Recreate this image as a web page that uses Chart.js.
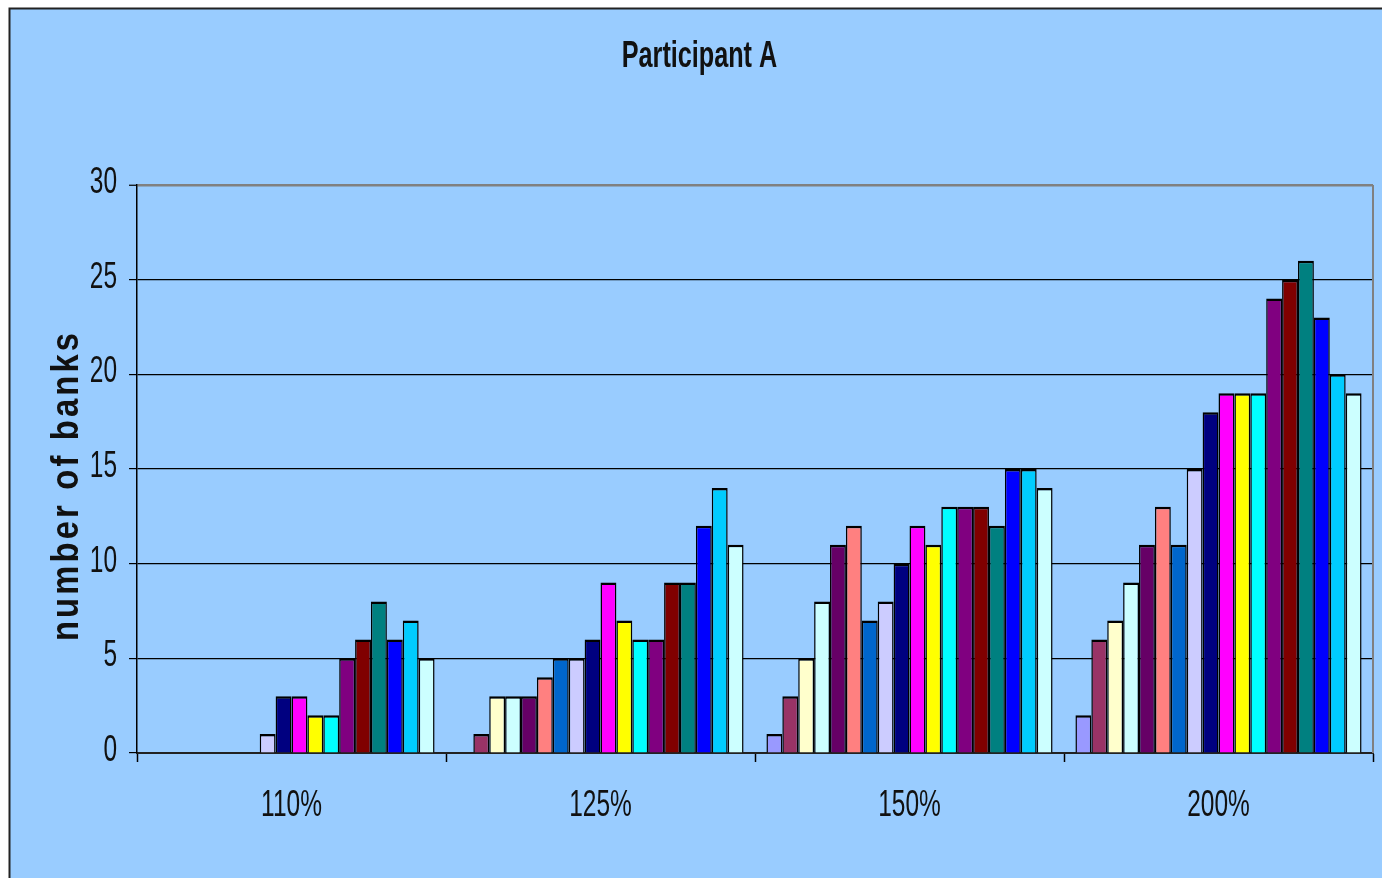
<!DOCTYPE html>
<html>
<head>
<meta charset="utf-8">
<title>Participant A</title>
<script src="https://cdn.jsdelivr.net/npm/chart.js@4/dist/chart.umd.min.js"></script>
<style>
  html, body { margin: 0; padding: 0; background: #ffffff; overflow: hidden; }
  #wrap { position: absolute; left: 0; top: 0; width: 1382px; height: 878px; }
</style>
</head>
<body>
<div id="wrap"><canvas id="chart" width="1382" height="878"></canvas></div>
<script>
// Threshold categories along the x axis
const categories = ['110%', '125%', '150%', '200%'];

// Y axis tick labels
const yTicks = [0, 5, 10, 15, 20, 25, 30];

// Number of banks per series, one array per threshold (18 series each)
const banks110 = [0, 0, 0, 0, 0, 0, 0, 1, 3, 3, 2, 2, 5, 6, 8, 6, 7, 5];
const banks125 = [0, 1, 3, 3, 3, 4, 5, 5, 6, 9, 7, 6, 6, 9, 9, 12, 14, 11];
const banks150 = [1, 3, 5, 8, 11, 12, 7, 8, 10, 12, 11, 13, 13, 13, 12, 15, 15, 14];
const banks200 = [2, 6, 7, 9, 11, 13, 11, 15, 18, 19, 19, 19, 24, 25, 26, 23, 20, 19];

// Classic spreadsheet series palette
const seriesColors = [
  '#9999FF', '#993366', '#FFFFCC', '#CCFFFF', '#660066', '#FF8080',
  '#0066CC', '#CCCCFF', '#000080', '#FF00FF', '#FFFF00', '#00FFFF',
  '#800080', '#800000', '#008080', '#0000FF', '#00CCFF', '#CCFFFF'
];

const byCategory = [banks110, banks125, banks150, banks200];
const datasets = seriesColors.map((color, s) => ({
  label: 'Series ' + (s + 1),
  data: byCategory.map(arr => arr[s]),
  backgroundColor: color,
  borderColor: '#000000',
  borderWidth: { top: 2.5, left: 1.5, right: 1.5, bottom: 0 },
  borderSkipped: 'start',
  categoryPercentage: 0.926,
  barPercentage: 1.0
}));

const FONT = '"Liberation Sans", Arial, sans-serif';
const BG = '#99CCFF';

// Draws text squeezed horizontally (narrow, tall lettering)
function squeezedText(ctx, text, x, y, sx, align) {
  ctx.save();
  ctx.translate(x, y);
  ctx.scale(sx, 1);
  ctx.textAlign = align;
  ctx.fillText(text, 0, 0);
  ctx.restore();
}

// Draws text centred on the origin, each glyph narrowed by sx and spaced apart
function spacedText(ctx, text, sx, spacing) {
  const chars = Array.from(text);
  const widths = chars.map(c => ctx.measureText(c).width * sx);
  const total = widths.reduce((a, b) => a + b, 0) + spacing * (chars.length - 1);
  let x = -total / 2;
  ctx.textAlign = 'left';
  chars.forEach((c, i) => {
    ctx.save();
    ctx.translate(x, 0);
    ctx.scale(sx, 1);
    ctx.fillText(c, 0, 0);
    ctx.restore();
    x += widths[i] + spacing;
  });
}

const frame = {
  id: 'frame',
  beforeDraw(chart) {
    const ctx = chart.ctx;
    ctx.save();
    ctx.fillStyle = '#ffffff';
    ctx.fillRect(0, 0, chart.width, chart.height);
    ctx.fillStyle = BG;
    ctx.fillRect(9, 8, chart.width, chart.height);
    ctx.strokeStyle = '#222222';
    ctx.lineWidth = 2;
    ctx.strokeRect(9.5, 8.5, chart.width + 20, chart.height + 20);
    ctx.restore();
  },
  afterDraw(chart) {
    const ctx = chart.ctx;
    const area = chart.chartArea;
    const xs = chart.scales.x, ys = chart.scales.y;
    ctx.save();

    // right edge of the plot area
    ctx.strokeStyle = '#808080';
    ctx.lineWidth = 2;
    ctx.beginPath();
    ctx.moveTo(area.right, area.top);
    ctx.lineTo(area.right, area.bottom);
    ctx.stroke();

    ctx.fillStyle = '#111111';

    // title
    ctx.font = 'bold 36px ' + FONT;
    ctx.textBaseline = 'alphabetic';
    squeezedText(ctx, 'Participant A', 699.5, 67, 0.70, 'center');

    // y tick labels
    ctx.font = '36px ' + FONT;
    ctx.textBaseline = 'middle';
    yTicks.forEach(v => {
      squeezedText(ctx, String(v), 117, ys.getPixelForValue(v) - 2, 0.68, 'right');
    });

    // x tick labels
    categories.forEach((c, i) => {
      squeezedText(ctx, c, xs.getPixelForValue(i), 806, 0.68, 'center');
    });

    // y axis title
    ctx.font = 'bold 38px ' + FONT;
    ctx.textBaseline = 'alphabetic';
    ctx.translate(78, 487);
    ctx.rotate(-Math.PI / 2);
    spacedText(ctx, 'number of banks', 0.86, 3.2);

    ctx.restore();
  }
};

new Chart(document.getElementById('chart'), {
  type: 'bar',
  data: { labels: categories, datasets },
  options: {
    responsive: false,
    animation: false,
    events: [],
    layout: { padding: { left: 0, top: 185, right: 9, bottom: 0 } },
    plugins: {
      legend: { display: false },
      title: { display: false },
      tooltip: { enabled: false }
    },
    scales: {
      x: {
        offset: true,
        ticks: { display: false },
        grid: {
          offset: true,
          drawOnChartArea: false,
          drawTicks: true,
          tickLength: 9,
          tickColor: '#000000',
          tickWidth: 1.5
        },
        border: { display: true, color: '#222222', width: 2 },
        afterFit(scale) { scale.height = 878 - 753; }
      },
      y: {
        min: 0,
        max: 30,
        afterBuildTicks(scale) { scale.ticks = yTicks.map(v => ({ value: v })); },
        ticks: { display: false },
        grid: {
          color: ctx => (ctx.tick && ctx.tick.value === 30 ? '#808080' : '#000000'),
          lineWidth: ctx => (ctx.tick && ctx.tick.value === 30 ? 2.5 : 1.2),
          drawTicks: true,
          tickLength: 8,
          tickColor: '#000000',
          tickWidth: 1.2
        },
        border: { display: true, color: '#000000', width: 1.5 },
        afterFit(scale) { scale.width = 137; }
      }
    }
  },
  plugins: [frame]
});
</script>
</body>
</html>
